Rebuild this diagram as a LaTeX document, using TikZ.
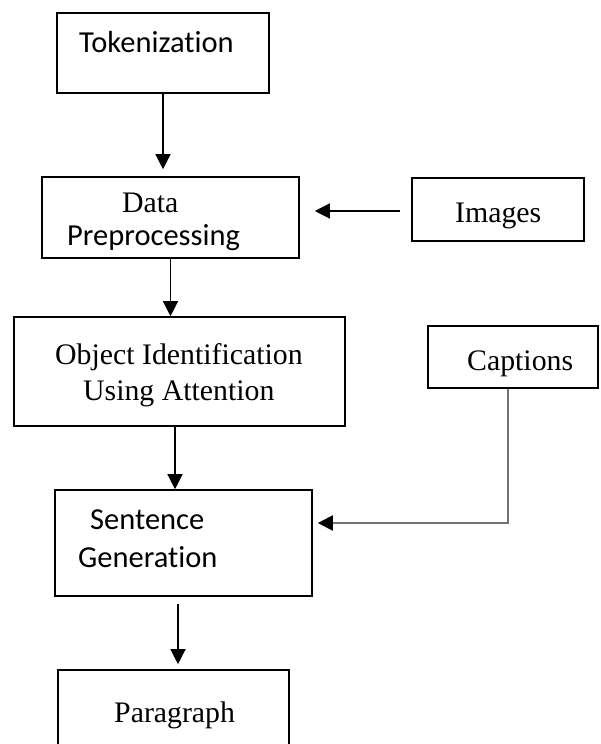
\documentclass[tikz,border=0pt]{standalone}
\usepackage{fontspec}
\setmainfont{Liberation Serif}
\newfontfamily\calibri[Ligatures=NoCommon]{Carlito}
\usetikzlibrary{arrows.meta}
\begin{document}
\begin{tikzpicture}[x=1pt,y=-1pt,
  box/.style={draw=black,line width=1.6pt,rectangle,inner sep=0pt},
  serif/.style={font=\fontsize{29.8}{34}\selectfont,anchor=base west,inner sep=0pt},
  sans/.style={font=\calibri\fontsize{30.5}{34}\selectfont,anchor=base west,inner sep=0pt},
  arr/.style={line width=1.3pt,draw=black,-{Triangle[width=15pt,length=15pt]}},
  feed/.style={line width=2pt,draw=black!55,-{Triangle[width=15pt,length=15pt,color=black]}}]
\useasboundingbox (0,0) rectangle (600,744);
\clip (0,0) rectangle (600,744);

% boxes
\node[box,minimum width=212pt,minimum height=80pt]  (tok)  at (163,53)    {};
\node[box,minimum width=257pt,minimum height=81pt]  (data) at (170.5,217.5) {};
\node[box,minimum width=172pt,minimum height=63pt]  (img)  at (498,209.5) {};
\node[box,minimum width=331pt,minimum height=109pt] (obj)  at (179.5,371.5) {};
\node[box,minimum width=170pt,minimum height=62pt]  (cap)  at (513,357)   {};
\node[box,minimum width=257pt,minimum height=106pt] (sen)  at (183.5,543) {};
\node[box,minimum width=231pt,minimum height=100pt] (par)  at (173.5,720) {};

% labels
\node[sans]  (tokT)  at (79,52)    {Tokenization};
\node[serif] (dataT) at (122,212)  {Data};
\node[sans]  (dataS) at (67,245)   {Preprocessing};
\node[serif] (imgT)  at (455,222)  {Images};
\node[serif] (objT)  at (55,364)   {Object Identification};
\node[serif] (objS)  at (83,400)   {Using Attention};
\node[serif] (capT)  at (467,370)  {Captions};
\node[sans]  (senT)  at (90,529)   {Sentence};
\node[sans]  (senS)  at (78,567)   {Generation};
\node[serif] (parT)  at (114,722)  {Paragraph};

% connectors
\draw[arr,shorten >=7pt] (tok.south) -- (tok.south |- data.north);
\draw[arr] (data.south) -- (data.south |- obj.north);
\draw[arr,shorten <=11pt,shorten >=15pt] ([yshift=-1.5pt]img.west) -- ([yshift=-1.5pt]img.west -| data.east);
\draw[arr] ([xshift=-4.5pt]obj.south) -- ([xshift=-4.5pt]obj.south |- sen.north);
\draw[arr,shorten <=7pt,shorten >=5pt] ([xshift=-5.5pt]sen.south) -- ([xshift=-5.5pt]sen.south |- par.north);
\draw[feed,shorten >=5pt] ([xshift=-5pt]cap.south) |- ([yshift=20pt]sen.east);
\end{tikzpicture}
\end{document}
